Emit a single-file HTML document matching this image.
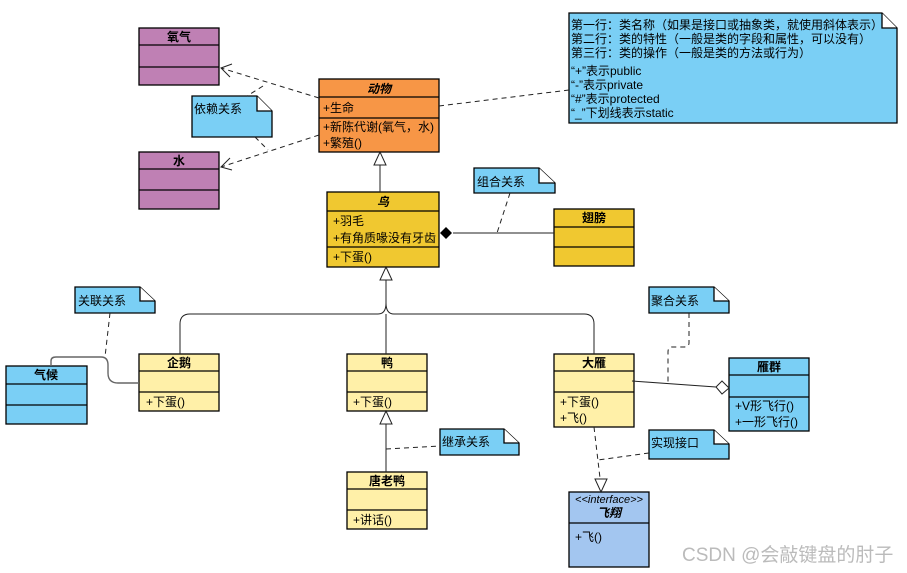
<!DOCTYPE html>
<html><head><meta charset="utf-8"><style>
html,body{margin:0;padding:0;background:#fff;}
svg{display:block;}
text{font-family:"Liberation Sans","Noto Sans CJK SC",sans-serif;font-size:12px;fill:#000;}
.b{font-weight:bold;}
</style></head><body>
<svg width="907" height="573" viewBox="0 0 907 573" xmlns="http://www.w3.org/2000/svg">
<g stroke="#000" stroke-width="1.3">
<rect x="139" y="28" width="80" height="57" fill="#bf80b4"/>
<line x1="139" y1="45" x2="219" y2="45"/><line x1="139" y1="67" x2="219" y2="67"/>
<rect x="139" y="152" width="80" height="57" fill="#bf80b4"/>
<line x1="139" y1="169" x2="219" y2="169"/><line x1="139" y1="190" x2="219" y2="190"/>
<rect x="319" y="79" width="120" height="73" fill="#f79646"/>
<line x1="319" y1="97" x2="439" y2="97"/><line x1="319" y1="118" x2="439" y2="118"/>
<rect x="327" y="192" width="112" height="75" fill="#f0c830"/>
<line x1="327" y1="211" x2="439" y2="211"/><line x1="327" y1="247" x2="439" y2="247"/>
<rect x="554" y="209" width="80" height="57" fill="#f0c830"/>
<line x1="554" y1="227" x2="634" y2="227"/><line x1="554" y1="247" x2="634" y2="247"/>
<rect x="6" y="366" width="81" height="58" fill="#7acff5"/>
<line x1="6" y1="384" x2="87" y2="384"/><line x1="6" y1="405" x2="87" y2="405"/>
<rect x="139" y="354" width="80" height="57" fill="#fff0a8"/>
<line x1="139" y1="371" x2="219" y2="371"/><line x1="139" y1="392" x2="219" y2="392"/>
<rect x="347" y="354" width="80" height="57" fill="#fff0a8"/>
<line x1="347" y1="371" x2="427" y2="371"/><line x1="347" y1="392" x2="427" y2="392"/>
<rect x="347" y="472" width="80" height="57" fill="#fff0a8"/>
<line x1="347" y1="489" x2="427" y2="489"/><line x1="347" y1="510" x2="427" y2="510"/>
<rect x="554" y="354" width="80" height="73" fill="#fff0a8"/>
<line x1="554" y1="371" x2="634" y2="371"/><line x1="554" y1="392" x2="634" y2="392"/>
<rect x="729" y="358" width="80" height="73" fill="#7acff5"/>
<line x1="729" y1="375" x2="809" y2="375"/><line x1="729" y1="397" x2="809" y2="397"/>
<rect x="569" y="492" width="80" height="75" fill="#a3c6f0"/>
<line x1="569" y1="523" x2="649" y2="523"/>
<path d="M569 13 H882 L897 28 V123 H569 Z" fill="#7acff5"/><path d="M882 13 V28 H897" fill="#fff"/>
<path d="M192 96 H257 L272 111 V137 H192 Z" fill="#7acff5"/><path d="M257 96 V111 H272" fill="#fff"/>
<path d="M474 168 H539 L555 183 V193 H474 Z" fill="#7acff5"/><path d="M539 168 V183 H555" fill="#fff"/>
<path d="M75 287 H140 L155 301 V313 H75 Z" fill="#7acff5"/><path d="M140 287 V301 H155" fill="#fff"/>
<path d="M440 429 H504 L519 443 V455 H440 Z" fill="#7acff5"/><path d="M504 429 V443 H519" fill="#fff"/>
<path d="M649 287 H714 L729 301 V313 H649 Z" fill="#7acff5"/><path d="M714 287 V301 H729" fill="#fff"/>
<path d="M649 430 H714 L729 444 V459 H649 Z" fill="#7acff5"/><path d="M714 430 V444 H729" fill="#fff"/>
</g>
<g fill="none" stroke="#222" stroke-width="1">
<g stroke-dasharray="5,4">
<line x1="319" y1="98" x2="221" y2="68"/>
<line x1="319" y1="135" x2="221" y2="167"/>
<line x1="263" y1="86" x2="247" y2="96"/><line x1="255" y1="137" x2="268" y2="150"/>
<line x1="439" y1="106" x2="569" y2="90"/>
<line x1="510" y1="193" x2="497" y2="233"/>
<line x1="110" y1="313" x2="105" y2="357"/>
<line x1="386" y1="449" x2="440" y2="446"/>
<path d="M689 313 V343 Q689 347 684 347 H672 Q668 347 668 352 V383"/>
<line x1="594" y1="427" x2="600" y2="478"/>
<line x1="649" y1="453" x2="598" y2="460"/>
</g>
<path d="M232 64 L221 68 L230 77"/>
<path d="M230 158 L221 167 L232 170"/>
<line x1="380" y1="165" x2="380" y2="192"/>
<line x1="453" y1="233" x2="554" y2="233"/>
<path d="M386 280 V303 Q386 314 378 314 H190 Q180 314 180 324 V354"/>
<path d="M386 303 Q386 314 394 314 H584 Q594 314 594 324 V354"/>
<line x1="386" y1="314" x2="386" y2="354"/>
<path d="M51 366 V361 Q51 357 56 357 H101 Q108 357 108 365 V373 Q108 383 118 383 H139" stroke="#666" stroke-width="1.4"/>
<line x1="386" y1="424" x2="386" y2="472"/>
<line x1="632" y1="381" x2="716" y2="387"/>
</g>
<g stroke="#222" stroke-width="1" fill="#fff">
<path d="M380 152 L374 165 H386 Z"/>
<path d="M386 267 L380 280 H392 Z"/>
<path d="M386 411 L380 424 H392 Z"/>
<path d="M601 492 L595 479 H607 Z"/>
<path d="M716 387 L722 381 L729 388 L722 394 Z"/>
</g>
<path d="M440 233 L446 227 L452 233 L446 239 Z" fill="#000"/>
<text x="179" y="41" text-anchor="middle" class="b">氧气</text>
<text x="179" y="165" text-anchor="middle" class="b">水</text>
<text x="379" y="93" text-anchor="middle" class="b" font-style="italic">动物</text>
<text x="323" y="112">+生命</text>
<text x="323" y="131">+新陈代谢(氧气，水)</text>
<text x="323" y="147">+繁殖()</text>
<text x="383" y="206" text-anchor="middle" class="b" font-style="italic">鸟</text>
<text x="333" y="225">+羽毛</text>
<text x="333" y="242">+有角质喙没有牙齿</text>
<text x="333" y="261">+下蛋()</text>
<text x="594" y="222" text-anchor="middle" class="b">翅膀</text>
<text x="46" y="379" text-anchor="middle" class="b">气候</text>
<text x="179" y="367" text-anchor="middle" class="b">企鹅</text>
<text x="146" y="406">+下蛋()</text>
<text x="387" y="367" text-anchor="middle" class="b">鸭</text>
<text x="353" y="406">+下蛋()</text>
<text x="387" y="485" text-anchor="middle" class="b">唐老鸭</text>
<text x="353" y="524">+讲话()</text>
<text x="594" y="367" text-anchor="middle" class="b">大雁</text>
<text x="560" y="406">+下蛋()</text>
<text x="560" y="422">+飞()</text>
<text x="769" y="371" text-anchor="middle" class="b">雁群</text>
<text x="735" y="410">+V形飞行()</text>
<text x="735" y="426">+一形飞行()</text>
<text x="609" y="503" text-anchor="middle" font-style="italic" style="font-size:11px">&lt;&lt;interface&gt;&gt;</text>
<text x="609" y="517" text-anchor="middle" class="b" font-style="italic">飞翔</text>
<text x="575" y="541">+飞()</text>
<text x="571" y="29">第一行：类名称（如果是接口或抽象类，就使用斜体表示）</text>
<text x="571" y="43">第二行：类的特性（一般是类的字段和属性，可以没有）</text>
<text x="571" y="57">第三行：类的操作（一般是类的方法或行为）</text>
<text x="571" y="75">“+”表示public</text>
<text x="571" y="89">“-”表示private</text>
<text x="571" y="103">“#”表示protected</text>
<text x="571" y="117">“_”下划线表示static</text>
<text x="194" y="113">依赖关系</text>
<text x="477" y="186">组合关系</text>
<text x="78" y="305">关联关系</text>
<text x="442" y="446">继承关系</text>
<text x="651" y="305">聚合关系</text>
<text x="651" y="447">实现接口</text>
<text x="682" y="561" style="font-size:19px;fill:#bbb">CSDN @会敲键盘的肘子</text>
</svg>
</body></html>
